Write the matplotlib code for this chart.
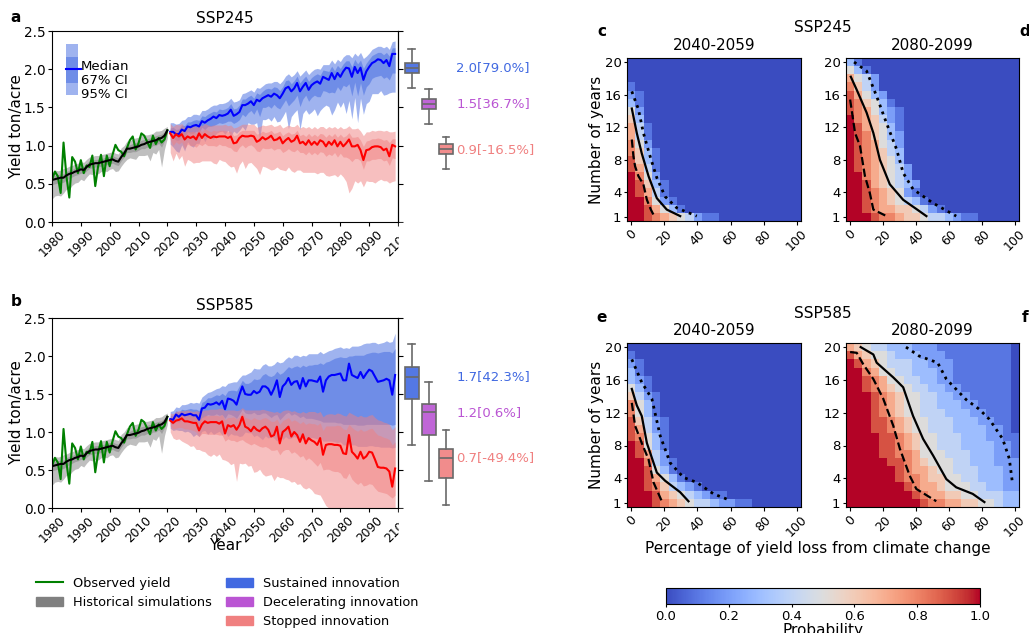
import numpy as np
import matplotlib
matplotlib.use('Agg')
import matplotlib.pyplot as plt
from matplotlib.patches import Patch, Rectangle
from matplotlib.lines import Line2D
from matplotlib.colors import to_rgba

W, H = 1029, 633

# ---------------- data: historical 1980-2020 ----------------
hist_years = np.arange(1980, 2021)
observed = [0.55, 0.66, 0.60, 0.38, 1.04, 0.60, 0.32, 0.85, 0.79, 0.64,
            0.81, 0.64, 0.74, 0.72, 0.87, 0.47, 0.73, 0.88, 0.60, 0.87,
            0.73, 0.88, 1.01, 0.94, 0.92, 0.86, 0.97, 1.07, 1.12, 0.95,
            1.03, 1.16, 1.13, 1.05, 0.97, 1.13, 1.02, 1.10, 1.04, 1.08, 1.20]
hist_med = [0.55, 0.56, 0.57, 0.58, 0.58, 0.61, 0.63, 0.64, 0.66, 0.67,
            0.69, 0.68, 0.72, 0.75, 0.76, 0.77, 0.77, 0.78, 0.79, 0.80,
            0.81, 0.82, 0.80, 0.79, 0.85, 0.90, 0.96, 0.96, 0.97, 0.98,
            0.99, 1.01, 1.02, 1.04, 1.05, 1.06, 1.07, 1.09, 1.10, 1.13, 1.20]
hist_d95 = [.25, .22, .22, .24, .20, .18, .20, .16, .15, .15,
            .13, .14, .13, .12, .14, .13, .14, .12, .12, .14,
            .12, .12, .14, .12, .12, .12, .14, .12, .14, .16,
            .12, .14, .15, .16, .25, .15, .18, .14, .38, .18, .10]
hist_d67 = [.06, .06, .06, .07, .06, .06, .06, .05, .05, .05,
            .05, .05, .05, .05, .05, .05, .05, .05, .05, .05,
            .05, .05, .05, .05, .05, .05, .05, .05, .05, .06,
            .05, .05, .06, .06, .08, .06, .07, .06, .12, .07, .04]
hist_u67 = [.04, .05, .05, .05, .05, .05, .05, .05, .05, .05,
            .05, .05, .05, .05, .05, .05, .05, .05, .05, .05,
            .05, .05, .05, .05, .06, .05, .05, .05, .06, .06,
            .06, .06, .06, .05, .05, .05, .06, .05, .05, .05, .03]
hist_u95 = [.10, .12, .10, .10, .12, .10, .10, .10, .10, .10,
            .10, .10, .10, .10, .10, .10, .10, .10, .10, .10,
            .10, .10, .10, .10, .12, .10, .10, .10, .12, .12,
            .12, .12, .12, .10, .10, .10, .12, .10, .10, .10, .05]

# ---------------- data: projections 2021-2099 ----------------
fut_years = np.arange(2021, 2100)

# SSP245 sustained innovation
a_blue_med = [1.18, 1.18, 1.15, 1.15, 1.21, 1.19, 1.25, 1.24, 1.26, 1.27,
              1.25, 1.32, 1.30, 1.33, 1.35, 1.38, 1.36, 1.40, 1.39, 1.40,
              1.42, 1.47, 1.39, 1.41, 1.44, 1.53, 1.53, 1.55, 1.58, 1.53,
              1.60, 1.58, 1.62, 1.64, 1.66, 1.64, 1.68, 1.66, 1.62, 1.68,
              1.75, 1.77, 1.71, 1.75, 1.82, 1.71, 1.77, 1.82, 1.73, 1.79,
              1.82, 1.84, 1.81, 1.90, 1.88, 1.86, 1.95, 1.87, 1.95, 1.90,
              1.97, 2.02, 2.01, 1.90, 2.03, 1.95, 2.02, 1.86, 1.97, 2.03,
              2.08, 2.10, 2.13, 2.12, 2.08, 2.12, 2.04, 2.20, 2.20]
a_blue_d95 = [.16, .20, .22, .24, .20, .26, .20, .24, .28, .24,
              .22, .18, .25, .20, .24, .30, .20, .22, .20, .25,
              .22, .35, .20, .25, .24, .28, .33, .25, .30, .25,
              .30, .50, .28, .30, .30, .32, .30, .35, .30, .30,
              .30, .55, .33, .32, .35, .50, .35, .35, .32, .35,
              .34, .45, .35, .40, .35, .35, .55, .40, .38, .40,
              .40, .60, .42, .55, .40, .65, .40, .45, .42, .45,
              .40, .42, .45, .40, .42, .45, .35, .50, .50]
a_blue_d67 = [.06, .07, .08, .08, .07, .09, .07, .08, .10, .08,
              .08, .08, .09, .08, .10, .12, .08, .10, .10, .10,
              .10, .15, .10, .10, .10, .12, .15, .12, .12, .12,
              .12, .20, .12, .14, .14, .15, .14, .16, .14, .14,
              .15, .25, .15, .15, .16, .20, .16, .16, .15, .16,
              .16, .20, .17, .18, .17, .17, .25, .18, .18, .18,
              .18, .25, .20, .25, .20, .30, .20, .20, .20, .22,
              .20, .20, .22, .20, .20, .22, .18, .25, .25]
a_blue_u67 = [.05, .06, .06, .07, .06, .07, .06, .07, .07, .07,
              .08, .07, .08, .08, .08, .07, .08, .08, .08, .08,
              .08, .08, .09, .08, .09, .08, .08, .09, .08, .09,
              .09, .09, .09, .10, .09, .10, .09, .10, .10, .09,
              .10, .09, .10, .10, .09, .11, .10, .09, .11, .10,
              .10, .10, .11, .09, .10, .11, .09, .11, .10, .11,
              .10, .09, .10, .13, .10, .12, .10, .15, .11, .10,
              .10, .10, .09, .10, .11, .10, .13, .08, .08]
a_blue_u95 = [.12, .12, .13, .14, .12, .15, .13, .14, .15, .14,
              .15, .14, .16, .15, .16, .15, .17, .15, .16, .16,
              .16, .15, .18, .17, .16, .15, .16, .16, .15, .17,
              .16, .17, .16, .17, .16, .18, .16, .18, .19, .17,
              .16, .17, .19, .18, .16, .20, .18, .17, .20, .18,
              .18, .17, .19, .16, .18, .20, .17, .20, .18, .20,
              .19, .17, .18, .25, .18, .22, .20, .28, .20, .18,
              .18, .18, .17, .18, .20, .18, .22, .16, .17]

# SSP245 stopped innovation
a_red_med = [1.16, 1.10, 1.15, 1.12, 1.15, 1.08, 1.12, 1.10, 1.12, 1.08,
             1.16, 1.10, 1.15, 1.12, 1.10, 1.12, 1.11, 1.12, 1.12, 1.12,
             1.10, 1.12, 1.03, 1.04, 1.10, 1.13, 1.12, 1.12, 1.13, 1.12,
             1.05, 1.07, 1.11, 1.08, 1.10, 1.13, 1.07, 1.08, 1.11, 1.03,
             1.07, 1.10, 1.05, 1.07, 1.13, 1.03, 1.05, 1.01, 1.07, 1.01,
             1.05, 1.01, 1.07, 1.05, 0.99, 1.05, 1.01, 1.07, 0.99, 1.05,
             0.99, 1.03, 1.08, 0.99, 0.99, 1.01, 0.94, 0.81, 0.94, 0.95,
             0.98, 0.99, 0.99, 0.98, 0.94, 0.96, 0.86, 1.01, 0.99]
a_red_d95 = [.25, .30, .25, .30, .28, .35, .30, .30, .35, .30,
             .38, .30, .35, .32, .30, .35, .35, .30, .32, .33,
             .35, .40, .30, .40, .35, .33, .42, .35, .35, .38,
             .35, .45, .38, .36, .40, .45, .38, .36, .42, .35,
             .40, .38, .38, .42, .45, .35, .40, .36, .42, .36,
             .40, .38, .42, .40, .38, .45, .40, .45, .40, .42,
             .40, .50, .70, .55, .45, .50, .40, .35, .40, .42,
             .45, .48, .45, .42, .40, .42, .35, .48, .45]
a_red_d67 = [.08, .10, .10, .10, .10, .12, .10, .10, .12, .10,
             .14, .10, .12, .12, .10, .12, .12, .10, .12, .12,
             .12, .15, .10, .12, .12, .12, .15, .12, .12, .14,
             .12, .15, .14, .12, .14, .16, .13, .12, .15, .12,
             .14, .14, .12, .15, .18, .12, .14, .13, .15, .13,
             .14, .13, .15, .14, .13, .16, .14, .16, .14, .15,
             .14, .18, .25, .20, .16, .18, .14, .12, .14, .15,
             .16, .17, .16, .15, .14, .15, .12, .17, .16]
a_red_u67 = [.06, .07, .06, .07, .07, .08, .07, .08, .07, .08,
             .06, .08, .07, .08, .08, .08, .08, .08, .08, .08,
             .08, .07, .10, .10, .08, .07, .08, .08, .07, .08,
             .10, .09, .08, .09, .08, .07, .09, .09, .08, .10,
             .09, .08, .10, .09, .07, .10, .10, .11, .09, .11,
             .10, .11, .09, .10, .12, .10, .11, .09, .12, .10,
             .12, .10, .09, .12, .12, .11, .13, .18, .12, .12,
             .11, .10, .11, .11, .13, .12, .18, .08, .10]
a_red_u95 = [.13, .15, .13, .15, .14, .16, .14, .15, .15, .16,
             .12, .16, .14, .15, .16, .15, .16, .15, .15, .16,
             .16, .15, .20, .20, .16, .15, .16, .16, .15, .16,
             .19, .18, .16, .18, .17, .15, .18, .18, .17, .20,
             .18, .17, .20, .18, .15, .20, .20, .22, .18, .21,
             .20, .21, .18, .20, .23, .20, .22, .18, .23, .20,
             .23, .20, .18, .23, .23, .22, .25, .32, .24, .23,
             .22, .20, .21, .22, .25, .24, .32, .17, .20]

# SSP585 sustained innovation
b_blue_med = [1.17, 1.16, 1.23, 1.20, 1.24, 1.22, 1.23, 1.24, 1.22, 1.22,
              1.16, 1.31, 1.32, 1.37, 1.36, 1.37, 1.39, 1.36, 1.41, 1.30,
              1.44, 1.43, 1.41, 1.36, 1.49, 1.60, 1.50, 1.49, 1.49, 1.54,
              1.51, 1.53, 1.60, 1.60, 1.57, 1.49, 1.57, 1.68, 1.46, 1.60,
              1.64, 1.71, 1.62, 1.66, 1.67, 1.57, 1.71, 1.60, 1.68, 1.68,
              1.67, 1.66, 1.73, 1.53, 1.68, 1.73, 1.75, 1.75, 1.76, 1.77,
              1.68, 1.68, 1.90, 1.75, 1.73, 1.71, 1.79, 1.71, 1.77, 1.82,
              1.80, 1.73, 1.66, 1.67, 1.68, 1.70, 1.68, 1.49, 1.75]
b_blue_d95 = [.12, .14, .20, .18, .22, .22, .22, .25, .28, .25,
              .22, .30, .30, .40, .35, .40, .40, .35, .45, .30,
              .50, .45, .45, .40, .55, .65, .50, .50, .50, .60,
              .55, .60, .70, .65, .65, .55, .65, .80, .50, .70,
              .70, .80, .70, .72, .75, .65, .80, .70, .78, .75,
              .75, .75, .80, .65, .80, .85, .87, .88, .90, .90,
              .85, .85, 1.05, .92, .90, .90, .98, .90, .96, 1.00,
              .98, .92, .85, .87, .88, .90, .88, .70, .95]
b_blue_d67 = [.06, .06, .08, .07, .08, .08, .08, .09, .10, .10,
              .08, .12, .12, .14, .14, .15, .15, .14, .18, .12,
              .20, .20, .20, .18, .25, .30, .25, .25, .25, .28,
              .28, .30, .35, .35, .35, .30, .35, .45, .30, .40,
              .40, .45, .40, .42, .45, .38, .50, .42, .50, .50,
              .50, .50, .58, .40, .55, .60, .62, .62, .64, .65,
              .58, .58, .80, .65, .63, .62, .70, .62, .67, .72,
              .70, .63, .56, .57, .58, .60, .58, .40, .65]
b_blue_u67 = [.05, .06, .05, .06, .06, .07, .07, .07, .08, .08,
              .12, .08, .09, .08, .09, .10, .10, .12, .10, .18,
              .10, .12, .14, .18, .12, .08, .14, .15, .17, .16,
              .18, .17, .15, .17, .17, .24, .18, .12, .30, .18,
              .18, .15, .22, .20, .20, .28, .17, .26, .20, .20,
              .22, .23, .18, .36, .24, .20, .20, .22, .22, .22,
              .30, .30, .10, .25, .28, .30, .22, .30, .26, .22,
              .25, .32, .38, .38, .38, .36, .38, .55, .35]
b_blue_u95 = [.10, .12, .10, .12, .12, .14, .14, .15, .16, .17,
              .22, .15, .17, .15, .17, .18, .18, .22, .20, .30,
              .20, .22, .25, .30, .22, .15, .25, .28, .30, .30,
              .32, .30, .28, .30, .30, .38, .32, .25, .45, .32,
              .32, .28, .35, .35, .34, .42, .30, .40, .35, .35,
              .36, .37, .33, .50, .37, .34, .33, .35, .35, .35,
              .42, .43, .20, .38, .40, .42, .35, .45, .40, .35,
              .38, .45, .50, .50, .50, .50, .50, .70, .55]

# SSP585 stopped innovation
b_red_med = [1.15, 1.12, 1.15, 1.16, 1.18, 1.14, 1.14, 1.13, 1.12, 1.12,
             1.02, 1.10, 1.14, 1.12, 1.13, 1.13, 1.13, 1.11, 1.14, 0.98,
             1.09, 1.07, 1.09, 1.03, 1.09, 1.20, 1.07, 1.05, 1.01, 1.07,
             1.03, 1.01, 1.05, 1.07, 1.03, 0.94, 0.96, 1.07, 0.85, 1.00,
             1.03, 1.07, 0.94, 1.00, 0.96, 0.87, 0.97, 0.85, 0.92, 0.89,
             0.87, 0.83, 0.92, 0.70, 0.83, 0.84, 0.84, 0.83, 0.83, 0.82,
             0.72, 0.71, 0.96, 0.74, 0.70, 0.65, 0.74, 0.65, 0.68, 0.74,
             0.73, 0.64, 0.54, 0.53, 0.53, 0.52, 0.48, 0.28, 0.52]
b_red_d95 = [.15, .20, .25, .25, .30, .28, .30, .32, .30, .35,
             .25, .35, .40, .42, .45, .42, .45, .40, .50, .35,
             .48, .50, .50, .68, .50, .62, .48, .50, .45, .60,
             .55, .50, .60, .65, .60, .50, .60, .65, .45, .60,
             .65, .70, .60, .65, .65, .55, .70, .60, .65, .65,
             .68, .65, .75, .60, .80, .84, .84, .83, .83, .82,
             .72, .71, .96, .74, .70, .65, .74, .65, .68, .74,
             .73, .64, .54, .53, .53, .52, .48, .28, .52]
b_red_d67 = [.07, .08, .10, .10, .12, .10, .10, .10, .10, .12,
             .08, .12, .16, .15, .16, .16, .16, .15, .18, .10,
             .18, .18, .20, .16, .20, .30, .20, .20, .18, .22,
             .20, .20, .25, .26, .24, .18, .20, .30, .15, .25,
             .26, .30, .22, .26, .25, .20, .28, .22, .26, .26,
             .28, .28, .32, .20, .32, .33, .35, .35, .35, .36,
             .32, .32, .50, .36, .36, .34, .40, .36, .38, .42,
             .42, .38, .32, .32, .33, .33, .32, .15, .35]
b_red_u67 = [.05, .06, .06, .06, .05, .07, .07, .07, .08, .08,
             .14, .09, .08, .09, .09, .09, .09, .10, .09, .18,
             .10, .12, .11, .14, .11, .06, .12, .13, .15, .12,
             .14, .15, .13, .12, .14, .20, .18, .10, .25, .15,
             .14, .12, .20, .16, .18, .24, .17, .25, .20, .22,
             .24, .26, .20, .32, .25, .24, .24, .25, .26, .26,
             .32, .32, .14, .32, .33, .36, .30, .36, .34, .30,
             .32, .36, .42, .42, .40, .40, .42, .55, .35]
b_red_u95 = [.10, .12, .12, .12, .10, .14, .15, .15, .15, .16,
             .25, .18, .15, .17, .17, .17, .17, .20, .17, .30,
             .20, .22, .20, .25, .20, .12, .22, .24, .28, .22,
             .26, .28, .25, .22, .25, .33, .30, .20, .40, .28,
             .26, .22, .33, .28, .30, .38, .30, .40, .35, .38,
             .40, .42, .35, .50, .40, .40, .40, .40, .42, .42,
             .50, .50, .30, .50, .52, .55, .48, .55, .52, .48,
             .50, .55, .62, .62, .60, .60, .62, .75, .55]

# 2080-2099 box plots: sustained, decelerating, stopped
a_box_lo = [1.76, 1.28, 0.69]
a_box_q1 = [1.955, 1.475, 0.886]
a_box_med = [2.02, 1.545, 0.95]
a_box_q3 = [2.085, 1.61, 1.02]
a_box_hi = [2.26, 1.74, 1.11]
a_box_text = ['2.0[79.0%]', '1.5[36.7%]', '0.9[-16.5%]']

b_box_lo = [0.83, 0.36, 0.04]
b_box_q1 = [1.43, 0.96, 0.39]
b_box_med = [1.73, 1.26, 0.66]
b_box_q3 = [1.85, 1.37, 0.77]
b_box_hi = [2.16, 1.66, 1.03]
b_box_text = ['1.7[42.3%]', '1.2[0.6%]', '0.7[-49.4%]']

# ---------------- data: probability grids ----------------
# rows: number of years 20 (top) .. 1 (bottom); columns: loss 0,5,...,100 %
# digit d -> d/10, X -> 1.0, missing tail -> 0
loss_pct = np.arange(0, 101, 5)
n_years = np.arange(1, 21)

prob_c = ["", "", "", "1", "21", "31", "52", "63", "741", "741",
          "852", "8631", "9631", "9741", "X852", "X9631", "X9741", "XX8521",
          "XX97531", "XX9876542110"]
prob_d = ["31", "531", "7542", "8642", "97532", "986531", "9875321", "X876421",
          "X976531", "X986532", "X987542", "X987643", "X987653", "X9876542",
          "XX876542", "XX9765432", "XX9876521", "XX98765431", "XX9877665421",
          "XXX9887665443211"]
prob_e = ["", "1", "21", "31", "321", "531", "6421", "8531", "8531", "96421",
          "97421", "98531", "X9531", "X9742", "XX8421", "XX9531", "XX97531",
          "XX9864321", "XXX976543211", "XXX987654432211"]
prob_f = ["76544333222111111111", "97655433322211111111", "X9765444332221111111",
          "XX875544333221111111", "XX987554433221111111", "XX987655443322111111",
          "XXX98765544332211111", "XXX98765544333221111", "XXX98765544433322111",
          "XXX99876554443332211", "XXX998765544433332210", "XXXX99876554443332211",
          "XXXX99876554443333221", "XXXX99887555444333221",
          "XXXXX9987655544333222", "XXXXXX987765544433322",
          "XXXXXX988766554433322", "XXXXXXX98776555443322",
          "XXXXXXXX9877665544433", "XXXXXXXXX988776655433"]

# threshold curves (loss %, number of years)
c_dash = [(0.4, 10.5), (1.4, 8.4), (2.4, 7.2), (4.4, 6), (7.4, 5), (9.5, 3.1), (11.9, 1.9), (13.9, 1.1)]
c_solid = [(0.4, 14.3), (3.4, 11.3), (6.4, 8.8), (10.5, 6), (15.5, 3.3), (21.5, 1.9), (29.6, 1.1)]
c_dot = [(0.4, 16.4), (4.4, 14.2), (7.4, 11.3), (11.5, 8.4), (15.5, 5.8), (20.5, 3.5), (27.6, 2.1), (39.6, 1.1)]
d_dash = [(0, 15.4), (3, 11.3), (6, 9.7), (9, 6), (12, 3.9), (14.1, 1.9), (22.1, 1.1)]
d_solid = [(0.4, 18.2), (4, 16.6), (10, 13.8), (14.1, 11.3), (18.1, 8), (24.1, 5), (32.2, 3.1), (40, 2.0), (46.3, 1.1)]
d_dot = [(2.4, 20), (10, 18.9), (16.1, 15.8), (22.1, 12.5), (28.2, 9.3), (32.2, 6.4), (38.2, 4.4), (50.3, 2.7), (64.4, 1.1)]
e_dash = [(0.4, 13.2), (2.4, 10.4), (6.4, 8.3), (10.5, 6.3), (13.5, 3.5), (18.5, 1.2)]
e_solid = [(0.4, 14.9), (3.4, 12.9), (6.4, 11.6), (9.5, 8.3), (15.5, 4.7), (20.5, 3.7), (29.6, 2.3), (34.6, 1.2)]
e_dot = [(0.4, 18.5), (6.4, 15.7), (12.5, 13.7), (17.5, 9.2), (23.5, 5.9), (31.6, 4.1), (39.6, 3.5), (49.7, 2.1), (59.8, 1.3)]
f_dash = [(0, 19.4), (4, 19.3), (8, 17.9), (14.1, 16.1), (20.1, 13.7), (26.2, 10.4), (30.2, 7.6), (36.2, 4.3), (40.2, 2.7), (52.3, 1.2)]
f_solid = [(6.4, 20), (14.1, 19.1), (16.1, 18.1), (26.2, 16.3), (32.2, 15.1), (38.2, 11.6), (44.3, 8.8), (50.3, 6.8),
           (58.4, 3.9), (64.4, 2.9), (74.4, 2.1), (81.5, 1.1)]
f_dot = [(33.9, 20), (42, 18.9), (53.1, 18.1), (58.4, 16.1), (70.4, 13.6), (78.5, 12.4), (84.5, 11.2), (92.6, 8.8),
         (96.6, 6.4), (98.6, 3.3)]

box_colors = ['royalblue', 'mediumorchid', 'lightcoral']


def px(x0, y0, x1, y1):
    # pixel box (left, top, right, bottom) -> figure fraction rect
    return [x0 / W, 1 - y1 / H, (x1 - x0) / W, (y1 - y0) / H]


def band(ax, x, med, d95, d67, u67, u95, color):
    m = np.array(med)
    lo95 = np.clip(m - np.array(d95), 0, None)
    ax.fill_between(x, lo95, m + np.array(u95), color=color, alpha=0.5, lw=0)
    ax.fill_between(x, m - np.array(d67), m + np.array(u67), color=color, alpha=0.5, lw=0)


def draw_ts(ax, blue, red, title):
    band(ax, hist_years, hist_med, hist_d95, hist_d67, hist_u67, hist_u95, 'gray')
    band(ax, fut_years, *blue, 'royalblue')
    band(ax, fut_years, *red, 'lightcoral')
    ax.plot(hist_years, observed, color='green', lw=1.5)
    ax.plot(hist_years, hist_med, color='black', lw=1.5)
    ax.plot(fut_years, blue[0], color='blue', lw=1.5)
    ax.plot(fut_years, red[0], color='red', lw=1.5)
    ax.set_xlim(1980, 2100)
    ax.set_ylim(0, 2.5)
    ax.set_xticks(np.arange(1980, 2101, 10))
    ax.set_yticks(np.arange(0, 2.51, 0.5))
    ax.set_yticklabels(['%.1f' % v for v in np.arange(0, 2.51, 0.5)])
    ax.tick_params(axis='x', rotation=45, labelsize=8.8, length=3, pad=1)
    ax.tick_params(axis='y', labelsize=9.8, length=3, pad=1.5)
    ax.set_ylabel('Yield ton/acre', fontsize=11)
    ax.yaxis.set_label_coords(-0.08, 0.5)
    ax.set_title(title, fontsize=11)


def draw_box(bax, lo, q1, md, q3, hi, texts):
    stats = [dict(whislo=lo[i], q1=q1[i], med=md[i], q3=q3[i], whishi=hi[i], fliers=[]) for i in range(3)]
    props = dict(color='dimgray', linewidth=1.2)
    b = bax.bxp(stats, positions=[1, 2, 3], widths=0.8, patch_artist=True, showfliers=False,
                boxprops=dict(edgecolor='dimgray', linewidth=1.2),
                whiskerprops=props, capprops=props, medianprops=props)
    for patch, c in zip(b['boxes'], box_colors):
        patch.set_facecolor(to_rgba(c, 0.9))
    for i in range(3):
        bax.text(3.6, md[i], texts[i], color=box_colors[i], fontsize=9.5, ha='left', va='center', clip_on=False)
    bax.set_xlim(0.2, 4.4)
    bax.set_ylim(0, 2.5)
    bax.patch.set_visible(False)
    for s in ['top', 'right', 'bottom']:
        bax.spines[s].set_visible(False)
    bax.set_xticks([])
    bax.set_yticks(np.arange(0, 2.51, 0.5))
    bax.tick_params(axis='y', direction='in', labelleft=False)


def to_grid(rows):
    g = [[1.0 if ch == 'X' else int(ch) / 10 for ch in r.ljust(21, '0')] for r in rows[::-1]]
    return np.array(g)


def draw_heat(ax, rows, lines, title, ylabel):
    im = ax.imshow(to_grid(rows), origin='lower', aspect='auto', cmap='coolwarm', vmin=0, vmax=1,
                   extent=(loss_pct[0] - 2.5, loss_pct[-1] + 2.5, n_years[0] - 0.5, n_years[-1] + 0.5),
                   interpolation='nearest')
    for pts, ls in zip(lines, ['--', '-', ':']):
        xs, ys = zip(*pts)
        ax.plot(xs, ys, color='black', ls=ls, lw=1.6 if ls != ':' else 2)
    ax.set_xticks([0, 20, 40, 60, 80, 100])
    ax.set_yticks([1, 4, 8, 12, 16, 20])
    ax.tick_params(axis='x', rotation=45, labelsize=9, length=3, pad=1.5)
    ax.tick_params(axis='y', labelsize=9.5, length=2.5, pad=1.5)
    ax.set_title(title, fontsize=11)
    if ylabel:
        ax.set_ylabel('Number of years', fontsize=11)
        ax.yaxis.set_label_coords(-0.13, 0.5)
    return im


fig = plt.figure(figsize=(W / 100, H / 100), dpi=100)

ax_a = fig.add_axes(px(52, 31, 398, 222))
ax_b = fig.add_axes(px(52, 318, 398, 508))
bx_a = fig.add_axes(px(398, 31, 470, 222))
bx_b = fig.add_axes(px(398, 318, 470, 508))

draw_ts(ax_a, (a_blue_med, a_blue_d95, a_blue_d67, a_blue_u67, a_blue_u95),
        (a_red_med, a_red_d95, a_red_d67, a_red_u67, a_red_u95), 'SSP245')
draw_ts(ax_b, (b_blue_med, b_blue_d95, b_blue_d67, b_blue_u67, b_blue_u95),
        (b_red_med, b_red_d95, b_red_d67, b_red_u67, b_red_u95), 'SSP585')
ax_b.set_xlabel('Year', fontsize=11)
ax_b.xaxis.set_label_coords(0.5, -0.158)

draw_box(bx_a, a_box_lo, a_box_q1, a_box_med, a_box_q3, a_box_hi, a_box_text)
draw_box(bx_b, b_box_lo, b_box_q1, b_box_med, b_box_q3, b_box_hi, b_box_text)

# inset key for median / CI shading
ax_a.add_patch(Rectangle((0.04, 0.665), 0.035, 0.267, transform=ax_a.transAxes, color='royalblue', alpha=0.5, lw=0))
ax_a.add_patch(Rectangle((0.04, 0.728), 0.035, 0.136, transform=ax_a.transAxes, color='royalblue', alpha=0.5, lw=0))
ax_a.plot([0.04, 0.085], [0.80, 0.80], color='blue', lw=1.5, transform=ax_a.transAxes)
ax_a.text(0.084, 0.74, 'Median\n67% CI\n95% CI', transform=ax_a.transAxes, fontsize=9.5,
          va='center', ha='left', linespacing=1.12)

# hide the clipped part of the last year label
for ytop in (222, 508):
    fig.add_artist(Rectangle((399 / W, 1 - (ytop + 30) / H), 16 / W, 29 / H,
                             transform=fig.transFigure, color='white', zorder=10))

ax_c = fig.add_axes(px(627, 58, 801, 221))
ax_d = fig.add_axes(px(846, 58, 1019, 221))
ax_e = fig.add_axes(px(627, 343, 801, 507))
ax_f = fig.add_axes(px(846, 343, 1019, 507))

im = draw_heat(ax_c, prob_c, [c_dash, c_solid, c_dot], '2040-2059', True)
draw_heat(ax_d, prob_d, [d_dash, d_solid, d_dot], '2080-2099', False)
draw_heat(ax_e, prob_e, [e_dash, e_solid, e_dot], '2040-2059', True)
draw_heat(ax_f, prob_f, [f_dash, f_solid, f_dot], '2080-2099', False)

cax = fig.add_axes(px(666, 588, 980, 604))
cb = fig.colorbar(im, cax=cax, orientation='horizontal')
cb.set_ticks([0, 0.2, 0.4, 0.6, 0.8, 1.0])
cb.ax.tick_params(labelsize=9.5, length=2.5, pad=1.5)
cb.set_label('Probability', fontsize=11, labelpad=0)

fig.text(823 / W, 1 - 28 / H, 'SSP245', ha='center', va='center', fontsize=11)
fig.text(823 / W, 1 - 314 / H, 'SSP585', ha='center', va='center', fontsize=11)
fig.text(818 / W, 1 - 548 / H, 'Percentage of yield loss from climate change', ha='center', va='center', fontsize=11)

for lt, (x, y) in zip('abcdef', [(16, 18), (16, 302), (602, 32), (1025, 32), (602, 318), (1025, 318)]):
    fig.text(x / W, 1 - y / H, lt, fontsize=11, fontweight='bold', ha='center', va='center')

handles = [Line2D([], [], color='green', lw=1.5),
           Patch(color='gray'),
           Patch(color='none'),
           Patch(color='royalblue'),
           Patch(color='mediumorchid'),
           Patch(color='lightcoral')]
labels = ['Observed yield', 'Historical simulations', '', 'Sustained innovation',
          'Decelerating innovation', 'Stopped innovation']
fig.legend(handles, labels, ncol=2, loc='upper left', bbox_to_anchor=(36 / W, 1 - 577 / H),
           frameon=False, fontsize=9.3, borderpad=0, borderaxespad=0, labelspacing=0.47,
           columnspacing=1.08, handlelength=2.1, handletextpad=0.78)

fig.savefig('out.png', dpi=100)
